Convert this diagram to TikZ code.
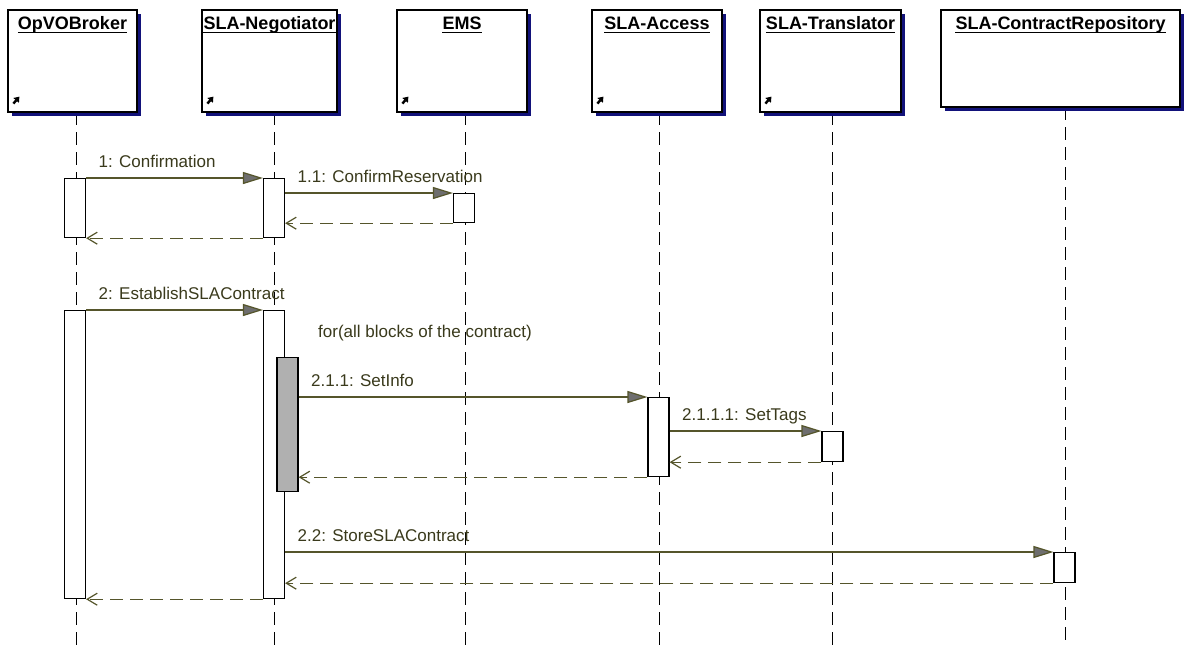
\documentclass[tikz,border=0pt]{standalone}
\usepackage{fontspec}
\setmainfont{Liberation Sans}
\usetikzlibrary{arrows.meta,positioning,calc,shadows}
\definecolor{msgline}{HTML}{55552B}
\definecolor{msgtext}{HTML}{3A3A1C}
\definecolor{headfill}{HTML}{6E6E6E}
\definecolor{shade}{HTML}{12127A}
\definecolor{busy}{HTML}{B0B0B0}

\begin{document}
\begin{tikzpicture}[
    x=1pt, y=-1pt,
    objbox/.style={
      draw,
      fill=white,
      line width=1.2pt,
      inner sep=0pt,
      drop shadow={shadow xshift=4pt, shadow yshift=-4pt, fill=shade, opacity=1}
    },
    objname/.style={anchor=base, inner sep=0pt, font=\fontsize{18}{20}\selectfont\bfseries},
    lifeline/.style={line width=1pt, dash pattern=on 13pt off 7pt},
    act/.style={draw, fill=white, line width=1.2pt, inner sep=0pt, minimum width=21pt, anchor=north},
    call/.style={
      draw=msgline,
      line width=1.2pt,
      -{Triangle[length=20pt,width=12pt,fill=headfill]}
    },
    reply/.style={
      draw=msgline,
      line width=1.2pt,
      dash pattern=on 13pt off 7pt,
      -{Straight Barb[length=10pt,width=12pt]}
    },
    msg/.style={anchor=base west, xshift=12pt, yshift=11pt, inner sep=0pt,
      text=msgtext, font=\fontsize{17}{20}\selectfont}
  ]
  \fill[white] (0,0) rectangle (1185,646);
  \useasboundingbox (0,0) rectangle (1185,646);

  % lifelines
  \foreach \nm/\lx/\ly in {broker/76/112, nego/274/112, ems/465/112,
      access/659/112, transl/832/112, repo/1065/107} {
    \coordinate (\nm-top) at (\lx,\ly);
    \coordinate (\nm-end) at (\lx,646);
    \draw[lifeline] (\nm-top) -- (\nm-end);
  }

  % objects
  \foreach \nm/\cx/\cy/\w/\h/\ttl in {broker/72.5/61/129/102/OpVOBroker,
      nego/269.5/61/135/102/SLA-Negotiator, ems/462/61/130/102/EMS,
      access/657/61/130/102/SLA-Access, transl/830.5/61/141/102/SLA-Translator,
      repo/1060.5/58.5/239/97/SLA-ContractRepository} {
    \node[objbox, minimum width=\w pt, minimum height=\h pt] (\nm) at (\cx,\cy) {};
    \node[objname] (\nm-t) at ($(\nm.north)+(0,20)$) {\ttl};
    \draw[line width=1.4pt] ($(\nm-t.base west)+(0,3)$) -- ($(\nm-t.base east)+(0,3)$);
  }
  \foreach \nm in {broker,nego,ems,access,transl}
    \draw[line width=2.4pt, -{Triangle[length=5pt,width=7pt]}]
      ($(\nm.south west)+(6,-9)$) -- ++(6,-7);

  % activations
  \node[act, minimum height=59pt] (b1) at (75,178) {};
  \node[act, minimum height=59pt] (n1) at (274,178) {};
  \node[act, minimum height=29pt] (e1) at (464,193) {};
  \node[act, minimum height=288pt] (b2) at (75,310) {};
  \node[act, minimum height=288pt] (n2) at (274,310) {};
  \node[act, minimum height=134pt, fill=busy] (n3) at (287.5,357) {};
  \node[act, minimum height=79pt] (a1) at (658.5,397) {};
  \node[act, minimum height=30pt] (t1) at (832.5,431) {};
  \node[act, minimum height=30pt] (r1) at (1064.5,552) {};

  % messages
  \draw[call] (b1.north east) -- node[msg, pos=0] (m1) {1: Confirmation} (n1.north west);
  \draw[call] (n1.east |- e1.north) -- node[msg, pos=0] (m11) {1.1: ConfirmReservation} (e1.north west);
  \draw[reply] (e1.south west) -- (n1.east |- e1.south);
  \draw[reply] (n1.south west) -- (b1.south east);

  \draw[call] (b2.north east) -- node[msg, pos=0] (m2) {2: EstablishSLAContract} (n2.north west);
  \node[msg, xshift=0pt, yshift=0pt] (loopnote) at (306,348) {for(all blocks of the contract)};
  \draw[call] (n3.east |- a1.north) -- node[msg, pos=0] (m211) {2.1.1: SetInfo} (a1.north west);
  \draw[call] (a1.east |- t1.north) -- node[msg, pos=0] (m2111) {2.1.1.1: SetTags} (t1.north west);
  \draw[reply] (t1.south west) -- (a1.east |- t1.south);
  \draw[reply] (a1.south west) -- (n3.east |- a1.south);
  \draw[call] (n2.east |- r1.north) -- node[msg, pos=0] (m22) {2.2: StoreSLAContract} (r1.north west);
  \draw[reply] (r1.south west) -- (n2.east |- r1.south);
  \draw[reply] (n2.south west) -- (b2.south east);
\end{tikzpicture}
\end{document}
